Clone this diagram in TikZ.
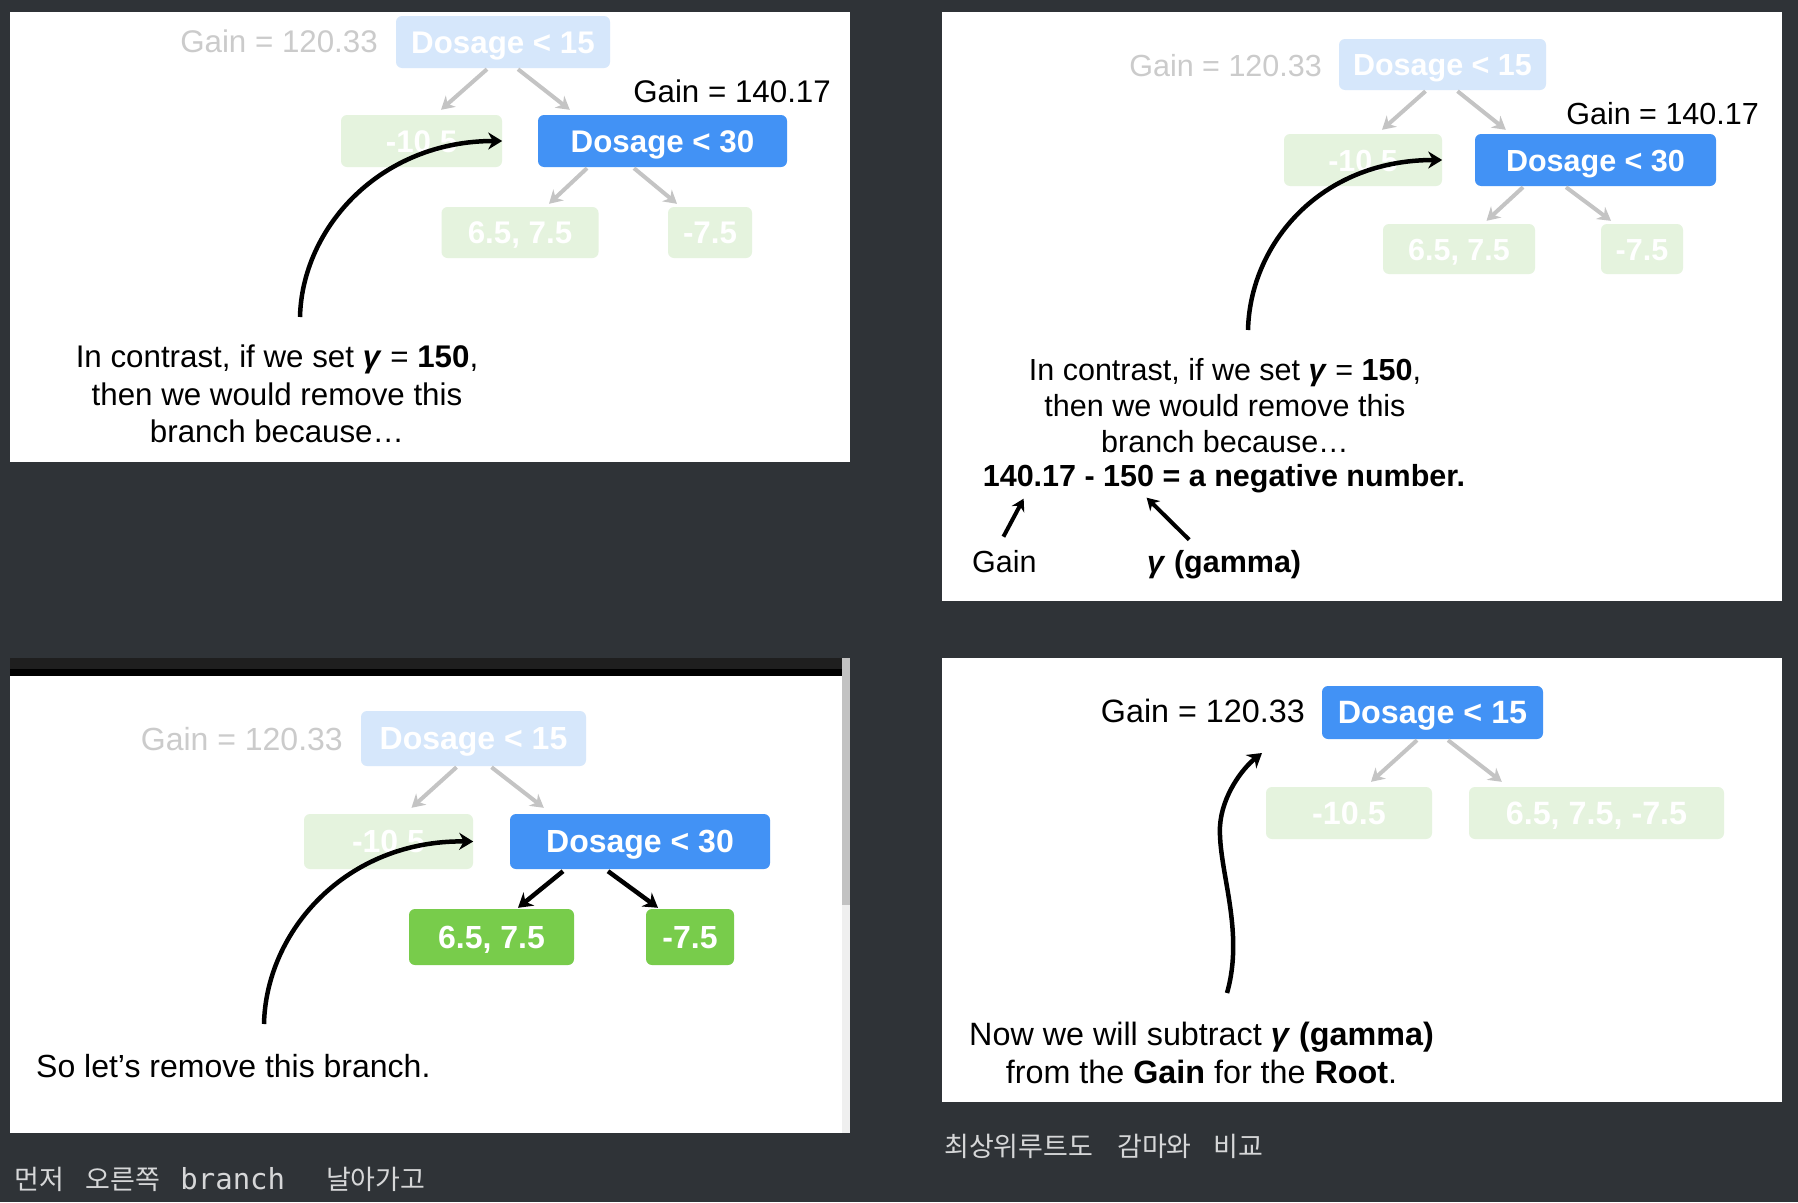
\documentclass[tikz,border=0pt]{standalone}
\usepackage{fontspec}
\setmainfont{Liberation Sans}
\newfontfamily\krfont{Noto Sans CJK KR}
\newfontfamily\monofont{DejaVu Sans Mono}
\usetikzlibrary{arrows.meta,calc}
\definecolor{cBg}{HTML}{2F3337}
\definecolor{cBlue}{HTML}{4292F5}
\definecolor{cGreen}{HTML}{78CC4B}
\definecolor{cFBlue}{HTML}{D6E7FB}
\definecolor{cFGreen}{HTML}{E5F3DE}
\definecolor{cArr}{HTML}{C4C4C4}
\definecolor{cFade}{HTML}{CBCBCB}
\definecolor{cCap}{HTML}{D6D7D8}
\definecolor{cBar}{HTML}{1F1F1F}
\definecolor{cTrack}{HTML}{EFEFEF}
\definecolor{cThumb}{HTML}{C2C2C2}
\newcommand\fsA{\fontsize{31.3}{37.5}\selectfont}
\newcommand\fsB{\fontsize{30.5}{36}\selectfont}
\newcommand\fsC{\fontsize{32}{38}\selectfont}
\newcommand\fsD{\fontsize{32.3}{38}\selectfont}
\newcommand\gam{\textbf{\textit{γ}}}
\begin{document}
\begin{tikzpicture}[x=1pt,y=-1pt,
  box/.style={rounded corners=6pt, inner sep=0pt, text=white, text height=22pt, text depth=0pt, execute at begin node=\bfseries},
  sz/.style 2 args={minimum width=#1pt, minimum height=#2pt},
  nb/.style={box, fill=cBlue},
  ng/.style={box, fill=cGreen},
  fb/.style={box, fill=cFBlue},
  fg/.style={box, fill=cFGreen},
  txt/.style={inner sep=0pt},
  fadetxt/.style={inner sep=0pt, text=cFade},
  ga/.style={draw=cArr, line width=4pt, -{Stealth[length=13pt,width=15pt]}},
  ka/.style={draw=black, line width=4.5pt, -{Stealth[length=14pt,width=17pt]}},
  kb/.style={draw=black, line width=4pt, -{Stealth[length=12pt,width=14pt]}}
]
\fill[cBg] (0,0) rectangle (1798,1202);
\useasboundingbox (0,0) rectangle (1798,1202);

% ---------------- Panel 1 ----------------
\fill[white] (10,12) rectangle (850,462);
\begin{scope}[every node/.style={font=\fsA}]
\node[fb, sz={214}{52}] (r1) at (503,42) {Dosage < 15};
\node[fadetxt, anchor=base east] (g1a) at (378,52) {Gain = 120.33};
\node[fg, sz={161}{52}] (a1) at (421.5,141) {-10.5};
\node[nb, sz={249}{52}] (b1) at (662.5,141) {Dosage < 30};
\node[txt, anchor=base east] (g1b) at (831,102) {Gain = 140.17};
\node[fg, sz={157}{51}] (c1) at (520,232.5) {6.5, 7.5};
\node[fg, sz={84}{51}] (d1) at (710,232.5) {-7.5};
\draw[ga] ($(r1.south)+(-16,1)$) -- ($(a1.north)+(19.5,-5)$);
\draw[ga] ($(r1.south)+(15,1)$) -- ($(b1.north west)+(32,-5)$);
\draw[ga] ($(b1.south)+(-75.5,1)$) -- ($(c1.north)+(29,-3)$);
\draw[ga] ($(b1.south)+(-28.5,1)$) -- ($(d1.north)+(-33,-3)$);
\coordinate (s1) at (300,317);
\draw[ka] (s1) .. controls (302,228) and (380,141) .. (a1.east);
\node[txt, anchor=north, align=center] (t1) at (277,345)
  {In contrast, if we set \gam{} = \textbf{150},\\then we would remove this\\branch because…};
\end{scope}

% ---------------- Panel 2 ----------------
\fill[white] (942,12) rectangle (1782,601);
\begin{scope}[every node/.style={font=\fsB}]
\node[fb, sz={207}{51}] (r2) at (1442.5,64.5) {Dosage < 15};
\node[fadetxt, anchor=base east] (g2a) at (1322,76) {Gain = 120.33};
\node[fg, sz={158}{52}] (a2) at (1363,160) {-10.5};
\node[nb, sz={241}{52}] (b2) at (1595.5,160) {Dosage < 30};
\node[txt, anchor=base east] (g2b) at (1759,124) {Gain = 140.17};
\node[fg, sz={152}{50}] (c2) at (1459,249) {6.5, 7.5};
\node[fg, sz={82}{50}] (d2) at (1642,249) {-7.5};
\draw[ga] ($(r2.south)+(-17,1)$) -- ($(a2.north)+(19,-4)$);
\draw[ga] ($(r2.south)+(15,1)$) -- ($(b2.north west)+(31,-4)$);
\draw[ga] ($(b2.south)+(-72.5,1)$) -- ($(c2.north)+(27.5,-3)$);
\draw[ga] ($(b2.south)+(-29.5,1)$) -- ($(d2.north)+(-31,-3)$);
\coordinate (s2) at (1248,330);
\draw[ka] (s2) .. controls (1250,244) and (1320,160) .. (a2.east);
\node[txt, anchor=north, align=center] (t2) at (1225,358)
  {In contrast, if we set \gam{} = \textbf{150},\\then we would remove this\\branch because…};
\node[txt, anchor=base, font=\fsB\bfseries] (eq2) at (1224,486) {140.17 - 150 = a negative number.};
\node[txt, anchor=base west] (gl2) at (972,572) {Gain};
\node[txt, anchor=base west, font=\fsB\bfseries] (gg2) at (1147,572) {\textit{γ} (gamma)};
\draw[kb] ($(gl2.north)+(-1,-13)$) -- ($(eq2.south west)+(41,6)$);
\draw[kb] ($(gg2.north)+(-35,-10)$) -- ($(eq2.south west)+(164,5)$);
\end{scope}

% ---------------- Panel 3 ----------------
\fill[cBar] (10,658) rectangle (842,669);
\fill[black] (10,669) rectangle (842,676);
\fill[white] (10,676) rectangle (842,1133);
\fill[cTrack] (842,658) rectangle (850,1133);
\fill[cThumb] (842,658) rectangle (850,905);
\begin{scope}[every node/.style={font=\fsC}]
\node[fb, sz={225}{55}] (r3) at (473.5,738.5) {Dosage < 15};
\node[fadetxt, anchor=base east] (g3a) at (343,750) {Gain = 120.33};
\node[fg, sz={169}{55}] (a3) at (388.5,841.5) {-10.5};
\node[nb, sz={260}{55}] (b3) at (640,841.5) {Dosage < 30};
\node[ng, sz={165}{56}] (c3) at (491.5,937) {6.5, 7.5};
\node[ng, sz={88}{56}] (d3) at (690,937) {-7.5};
\draw[ga] ($(r3.south)+(-17,1)$) -- ($(a3.north)+(23,-6)$);
\draw[ga] ($(r3.south)+(18,1)$) -- ($(b3.north west)+(34,-6)$);
\draw[ka] ($(b3.south)+(-77,2)$) -- ($(c3.north)+(26.5,-1)$);
\draw[ka] ($(b3.south)+(-32,2)$) -- ($(d3.north)+(-32,-1)$);
\coordinate (s3) at (264,1024);
\draw[ka] (s3) .. controls (266,931) and (346,840) .. (a3.east);
\node[txt, anchor=base west] (t3) at (36,1077) {So let’s remove this branch.};
\end{scope}

% ---------------- Panel 4 ----------------
\fill[white] (942,658) rectangle (1782,1102);
\begin{scope}[every node/.style={font=\fsD}]
\node[nb, sz={221}{53}] (r4) at (1432.5,712.5) {Dosage < 15};
\node[txt, anchor=base east] (g4) at (1305,722) {Gain = 120.33};
\node[fg, sz={166}{52}] (a4) at (1349,813) {-10.5};
\node[fg, sz={255}{52}] (b4) at (1596.5,813) {6.5, 7.5, -7.5};
\draw[ga] ($(r4.south)+(-15.5,1)$) -- ($(a4.north)+(22,-5)$);
\draw[ga] ($(r4.south)+(15.5,1)$) -- ($(b4.north west)+(33,-5)$);
\coordinate (w0) at (1227,993);
\coordinate (w1) at (1262,753);
\draw[ka] (w0) .. controls (1245,930) and (1218,870) .. (1220,826)
  .. controls (1222,795) and (1243,768) .. (w1);
\node[txt, anchor=north, align=center] (t4) at (1201.5,1022)
  {Now we will subtract \gam{} \textbf{(gamma)}\\from the \textbf{Gain} for the \textbf{Root}.};
\end{scope}

% ---------------- Captions ----------------
\node[txt, text=cCap, anchor=base west, font=\fontsize{27}{30}\selectfont\krfont] (cap1) at (14,1189)
  {먼저\hspace{22pt}오른쪽\hspace{20pt}{\monofont\fontsize{29}{30}\selectfont branch}\hspace{41pt}날아가고};
\node[txt, text=cCap, anchor=base west, font=\fontsize{27}{30}\selectfont\krfont] (cap2) at (944,1156)
  {최상위루트도\hspace{24pt}감마와\hspace{22pt}비교};
\end{tikzpicture}
\end{document}
